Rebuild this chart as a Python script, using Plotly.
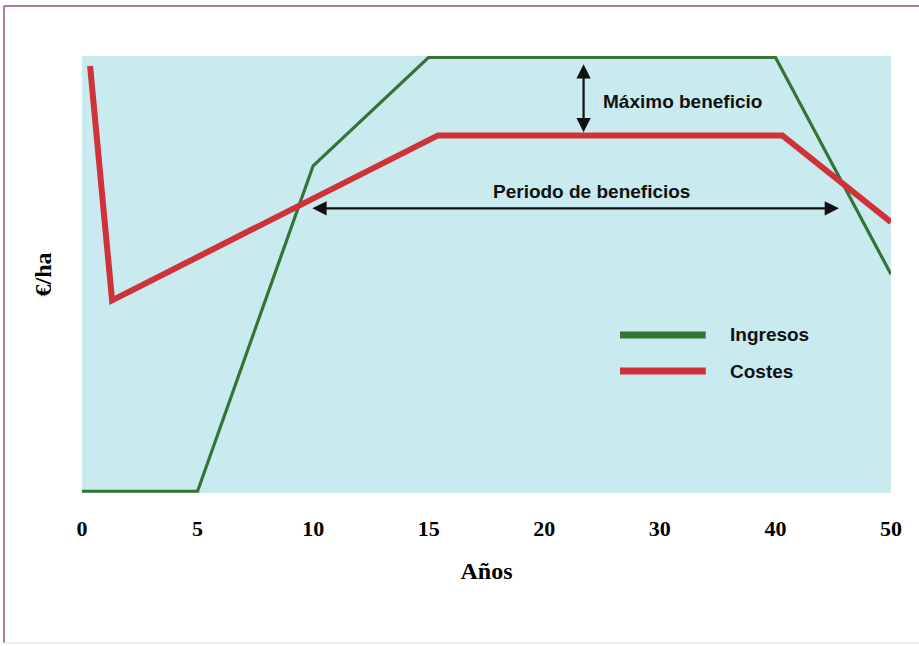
import numpy as np
import plotly.graph_objects as go

# Year ticks are spaced evenly along the axis (0, 5, 10, 15, then 20..50 by 10)
tick_years = [0, 5, 10, 15, 20, 30, 40, 50]
tick_labels = [str(v) for v in tick_years]

# Ingresos (revenue) curve
ingresos_years = [0, 5, 10, 15, 40, 50]
ingresos_vals = [0, 0, 75, 100, 100, 50]

# Costes (cost) curve
costes_years = [0.35, 1.3, 15.4, 40.6, 50]
costes_vals = [98, 44, 82, 82, 62]

# Annotation anchors (year, value)
max_benef_year = 23.4
max_benef_low, max_benef_high = 82.4, 98.4
periodo_start, periodo_end, periodo_val = 9.9, 45.5, 65.2


def pos(years):
    """Map years onto the evenly spaced tick positions."""
    return np.interp(years, tick_years, np.arange(len(tick_years)))


GREEN = "#347436"
RED = "#cf3239"
CYAN = "#c9eaee"

fig = go.Figure()
fig.add_trace(go.Scatter(
    x=pos(ingresos_years), y=ingresos_vals, mode="lines", name="Ingresos",
    line=dict(color=GREEN, width=3.2), showlegend=False,
))
fig.add_trace(go.Scatter(
    x=pos(costes_years), y=costes_vals, mode="lines", name="Costes",
    line=dict(color=RED, width=6), showlegend=False,
))

txt_font = dict(family="Liberation Sans", size=19, color="#111111", weight="bold")

annotations = [
    # vertical double arrow: maximum profit
    dict(x=float(pos(max_benef_year)), y=max_benef_high,
         ax=float(pos(max_benef_year)), ay=max_benef_low,
         xref="x", yref="y", axref="x", ayref="y", text="",
         showarrow=True, arrowhead=2, startarrowhead=2, arrowside="end+start",
         arrowsize=1.3, startarrowsize=1.3, arrowwidth=2.2, arrowcolor="#111111"),
    dict(x=float(pos(24.9)), y=89.9, xref="x", yref="y", text="Máximo beneficio",
         showarrow=False, xanchor="left", yanchor="middle", font=txt_font),
    # horizontal double arrow: profit period
    dict(x=float(pos(periodo_end)), y=periodo_val,
         ax=float(pos(periodo_start)), ay=periodo_val,
         xref="x", yref="y", axref="x", ayref="y", text="",
         showarrow=True, arrowhead=2, startarrowhead=2, arrowside="end+start",
         arrowsize=1.3, startarrowsize=1.3, arrowwidth=2.2, arrowcolor="#111111"),
    dict(x=float(pos(17.7)), y=69.1, xref="x", yref="y", text="Periodo de beneficios",
         showarrow=False, xanchor="left", yanchor="middle", font=txt_font),
]

# Hand-drawn legend with long line samples
legend_items = [("Ingresos", GREEN, 0.3616), ("Costes", RED, 0.279)]
shapes = []
for name, color, yy in legend_items:
    shapes.append(dict(type="line", xref="paper", yref="paper",
                       x0=0.665, x1=0.771, y0=yy, y1=yy,
                       line=dict(color=color, width=7)))
    annotations.append(dict(x=0.7985, y=yy, xref="paper", yref="paper", text=name,
                            showarrow=False, xanchor="left", yanchor="middle",
                            font=txt_font))

# Outer frame of the figure
FRAME = "#b27a9c"
shapes.append(dict(type="line", xref="paper", yref="paper", x0=-0.0964, x1=-0.0964,
                   y0=-0.3432, y1=1.1144, line=dict(color=FRAME, width=2)))
shapes.append(dict(type="line", xref="paper", yref="paper", x0=-0.0964, x1=1.04,
                   y0=1.1144, y1=1.1144, line=dict(color=FRAME, width=2)))
shapes.append(dict(type="line", xref="paper", yref="paper", x0=-0.0964, x1=1.04,
                   y0=-0.3432, y1=-0.3432, line=dict(color="#ecebef", width=2)))

fig.update_layout(
    width=919, height=646,
    margin=dict(l=82, r=28, t=56, b=153),
    paper_bgcolor="white", plot_bgcolor=CYAN,
    showlegend=False,
    annotations=annotations, shapes=shapes,
    xaxis=dict(
        range=[0, 7], tickvals=list(range(len(tick_years))), ticktext=tick_labels,
        showgrid=False, zeroline=False, showline=False, ticks="",
        tickfont=dict(family="Liberation Serif", size=22, color="black", weight="bold"),
        ticklabelstandoff=20,
        title=dict(text="Años", standoff=22,
                   font=dict(family="Liberation Serif", size=24, color="black", weight="bold")),
        automargin=False,
    ),
    yaxis=dict(
        range=[-0.4, 100.3], showgrid=False, zeroline=False, showline=False,
        showticklabels=False, ticks="",
        title=dict(text="€/ha", standoff=22,
                   font=dict(family="Liberation Serif", size=24, color="black", weight="bold")),
        automargin=False,
    ),
)

fig.write_html("out.html")
